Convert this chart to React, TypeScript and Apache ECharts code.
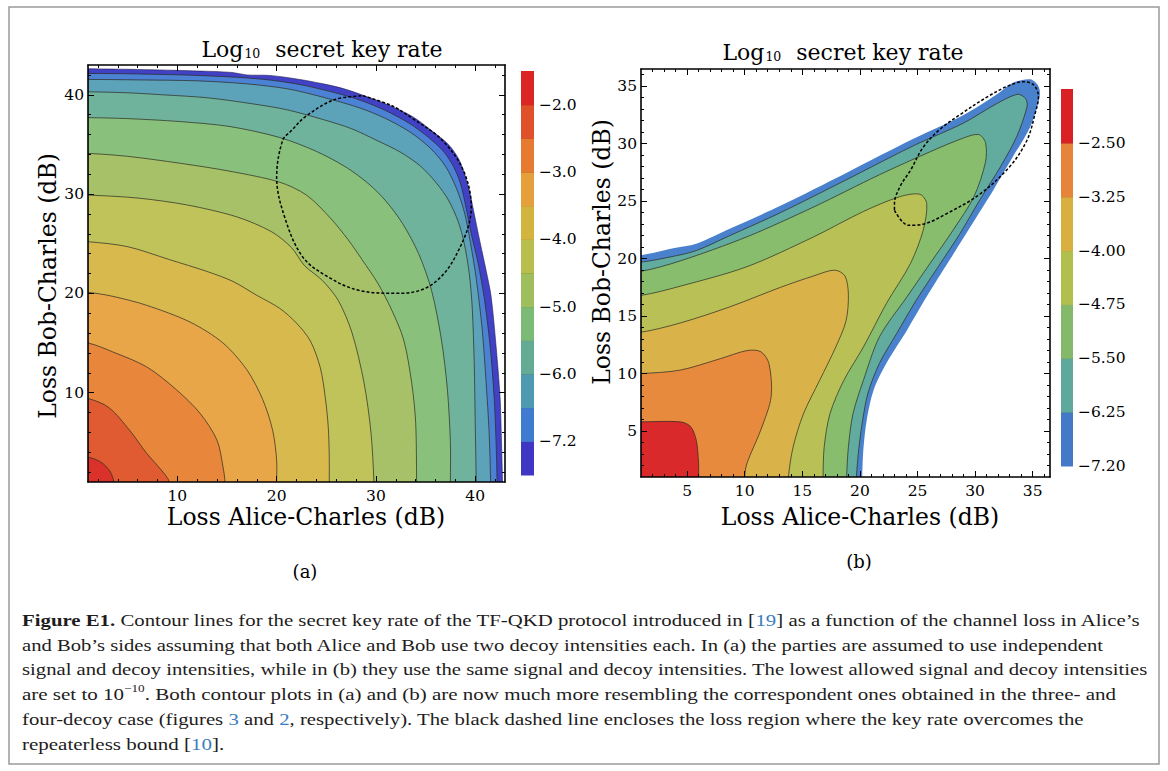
import { useEffect, useRef } from 'react';
import * as echarts from 'echarts';

const AXIS_FONT = 'DejaVu Serif';
const CAPTION_FONT = 'Liberation Serif';
const NB = '\u00a0';

// ================= Panel (a) =================
const A_RANGE = [1, 43];
const A_MAJOR = [10, 20, 30, 40];
const A_MINOR = [2, 4, 6, 8, 12, 14, 16, 18, 22, 24, 26, 28, 32, 34, 36, 38, 42];

// contour lines, outermost first (each runs from the left axis to the bottom axis)
const A_EDGE = [[1, 42.62], [6, 42.55], [12, 42.4], [15.5, 42.25], [17, 42.0], [19.3, 41.95], [22, 41.6], [24.7, 41.1], [26.8, 40.6], [28.7, 39.95], [31.2, 39.0], [33.7, 37.8], [35.6, 36.4], [37.3, 35.0], [38.3, 33.6], [38.9, 32.1], [39.4, 30.4], [39.8, 28.5], [40.5, 25.1], [41.1, 22.3], [41.6, 19.7], [42.1, 14.7], [42.5, 9.6], [42.65, 5], [42.75, 1]];
const A_C11 = [[1, 42.15], [6, 42.1], [12, 41.95], [17, 41.7], [20, 41.4], [22.5, 41.0], [24.7, 40.5], [27, 39.9], [28.7, 39.35], [31, 38.4], [33.4, 37.1], [35.3, 35.7], [36.8, 34.3], [37.8, 32.8], [38.5, 31.1], [39.0, 29], [39.6, 26], [40.3, 23], [40.9, 19.6], [41.5, 14.7], [41.9, 9.6], [42.1, 5], [42.2, 1]];
const A_C10 = [[1, 41.55], [6, 41.5], [12.1, 41.4], [17, 41.1], [21.1, 40.6], [24.5, 39.8], [28.3, 38.7], [31, 37.6], [33.5, 36.2], [35.5, 34.6], [37, 32.8], [38.1, 30.6], [38.9, 28.2], [39.5, 25.2], [40.1, 21.5], [40.7, 16.4], [41.1, 11], [41.4, 6], [41.55, 1]];
const A_C9 = [[1, 40.3], [5, 40.2], [8.5, 40.0], [13, 39.7], [17.5, 39.1], [21, 38.5], [24.7, 37.5], [27.5, 36.6], [30.1, 35.4], [32.5, 34.2], [34.5, 32.8], [36.1, 31.1], [37.3, 29.4], [38.3, 27.2], [38.9, 25], [39.4, 22], [39.7, 18.5], [39.9, 13], [40.0, 7], [40.1, 1]];
const A_C8 = [[1, 37.7], [5, 37.6], [10.3, 37.3], [15.3, 36.8], [20.3, 35.7], [24, 34.3], [27, 32.7], [29.3, 31], [31, 29.3], [32.7, 27], [34.3, 24], [35.6, 20.3], [36.6, 15.3], [37.2, 10.3], [37.5, 5], [37.5, 1]];
const A_C7 = [[1, 34.1], [5, 33.8], [10.3, 33.1], [15.3, 32.3], [20.3, 31.2], [23, 29.9], [25.4, 27.6], [27.2, 25.4], [28.6, 23.4], [30.2, 21.0], [31.6, 18.3], [32.8, 15.3], [33.6, 11], [34, 7], [34.1, 1]];
const A_C6 = [[1, 29.9], [6, 29.6], [11, 28.9], [16, 27.7], [19.5, 26.2], [21.5, 24.6], [22.8, 22.8], [24.6, 21.3], [26.2, 19.3], [27.6, 16], [28.8, 11], [29.5, 6], [29.8, 1]];
const A_C5 = [[1, 25.2], [5, 24.7], [9.2, 23.4], [13, 22.2], [15.6, 21.2], [18, 19.8], [20.3, 18.5], [22, 17], [23.4, 15.2], [24.4, 12.5], [24.9, 9.5], [25.2, 6.5], [25.3, 3.5], [25.3, 1]];
const A_C4 = [[1, 20.1], [3.5, 19.7], [6.9, 18.8], [11.3, 17.1], [14.6, 15], [17, 12.3], [18.6, 9.3], [19.6, 6.2], [20, 3.2], [20, 1]];
const A_C3 = [[1, 15], [3.5, 14.1], [6.9, 12.6], [9.9, 10.3], [12.3, 7.9], [14, 5.2], [14.6, 2.5], [14.8, 1]];
const A_C2 = [[1, 9.4], [3.1, 8.5], [5.2, 6.2], [6.9, 3.9], [8.3, 2.3], [9.2, 1]];
const A_C1 = [[1, 3.5], [2.3, 3.0], [3.2, 2.1], [3.6, 1]];
const A_CONTOURS = [A_EDGE, A_C11, A_C10, A_C9, A_C8, A_C7, A_C6, A_C5, A_C4, A_C3, A_C2, A_C1];
const A_FILLS = ['#4141c6', '#4b82d3', '#5ca2b8', '#6fb39c', '#88c07c', '#a6c167', '#bfc35a', '#d8b94e', '#e9a649', '#e8863b', '#e05b31', '#da322a'];
const A_DASH = [[28.7, 39.9], [31.6, 38.9], [33.7, 37.6], [36.6, 35.5], [38.8, 32.4], [39.6, 28.7], [38.0, 23.7], [35.5, 20.8], [32.3, 20.0], [28.3, 20.3], [25.1, 21.7], [22.6, 23.7], [20.8, 27.7], [20.0, 31.7], [20.6, 35.4], [21.5, 36.4], [22.9, 37.8], [25.8, 39.5], [28.7, 39.9]];
const A_CB_COLORS = ['#3f37c3', '#3f7bd1', '#4f9ab3', '#64ab96', '#7cbb76', '#9fbf5d', '#b9bf4e', '#d3b43f', '#e5a03d', '#e67b30', '#e0502a', '#dc2626'];
const A_CB_TICKS = [1, 3, 5, 7, 9, 11];
const A_CB_LABELS = ['−7.2', '−6.0', '−5.0', '−4.0', '−3.0', '−2.0'];

// ================= Panel (b) =================
const B_RANGE = [1, 36.5];
const B_MAJOR = [5, 10, 15, 20, 25, 30, 35];
const B_MINOR = [2, 3, 4, 6, 7, 8, 9, 11, 12, 13, 14, 16, 17, 18, 19, 21, 22, 23, 24, 26, 27, 28, 29, 31, 32, 33, 34, 36];

const B_EDGE = [[1, 20.3], [3.8, 20.9], [5.8, 21.3], [8.7, 22.6], [13.1, 24.6], [18.9, 27.5], [24.6, 30.4], [29, 32.5], [31.9, 34.3], [33.3, 35.3], [34.8, 35.6], [35.5, 35.0], [35.6, 34.1], [34.8, 31.5], [33.3, 28.9], [31.6, 26], [29.8, 23.1], [27.8, 19.9], [25.8, 16.7], [24.1, 13.8], [22.3, 10.9], [21.2, 8.6], [20.6, 6], [20.3, 3.4], [20.2, 1]];
const B_TB = [[1, 19.7], [3.8, 20.2], [5.8, 20.7], [8.7, 22.0], [13.1, 24.0], [18.9, 26.9], [24.6, 29.8], [29, 31.8], [31.9, 33.5], [33.7, 34.3], [34.4, 33.9], [34.5, 33.2], [33.6, 30.6], [32.2, 28], [30.4, 25.1], [28.7, 22.2], [26.8, 19.3], [24.9, 16.4], [23.2, 13.5], [21.7, 10.9], [20.7, 8.3], [20.2, 5.7], [19.9, 3.4], [19.7, 1]];
const B_GT = [[1, 18.9], [4.4, 19.8], [10.2, 21.9], [16, 24.5], [21.7, 27.3], [26.1, 29.3], [29, 30.5], [30.3, 30.8], [30.9, 30.1], [30.9, 28.4], [29.9, 25.4], [28.1, 22.5], [26.1, 19.6], [24.1, 16.7], [21.7, 13.2], [20.3, 9.4], [19.4, 6.5], [19, 3.6], [18.85, 1]];
const B_YG = [[1, 16.8], [4.4, 17.6], [10.2, 19.3], [16, 21.9], [20.3, 24.1], [23.5, 25.4], [25.2, 25.6], [25.8, 24.8], [25.5, 22.5], [24.4, 19.6], [22.3, 16.1], [20.3, 12.3], [18.6, 9.4], [17.4, 6.5], [16.9, 3.6], [16.8, 1]];
const B_Y = [[1, 13.6], [4.4, 14.4], [8.7, 15.8], [13.1, 17.5], [16, 18.5], [17.8, 19], [18.7, 18.5], [19, 16.9], [18.8, 14.6], [17.9, 12.3], [16.5, 9.4], [15.1, 6.5], [14.2, 3.6], [13.8, 1]];
const B_O = [[1, 10], [4.4, 10.3], [7.9, 11.3], [10.2, 12], [11.4, 11.9], [12.1, 10.9], [12.3, 8], [11.4, 5.1], [10.2, 2.2], [10, 1]];
const B_R = [[1, 5.8], [4.4, 5.8], [5.3, 5.4], [5.8, 4.2], [6, 2.2], [6, 1]];
const B_CONTOURS = [B_EDGE, B_TB, B_GT, B_YG, B_Y, B_O, B_R];
const B_FILLS = ['#4a81cc', '#62ab9f', '#88bd6e', '#b9c156', '#dab24a', '#e88a3e', '#d9292a'];
const B_DASH = [[23.0, 24.2], [24.2, 22.9], [25.5, 23.0], [27.5, 23.9], [30.4, 25.6], [33, 28], [34.5, 30.3], [35.2, 32.6], [35.5, 34.1], [35.1, 35.1], [34.2, 35.4], [32.8, 35.0], [31.1, 34.1], [28.8, 32.6], [27, 31.3], [25.5, 29.7], [24.4, 27.7], [23.5, 26.3], [23.0, 24.8], [23.0, 24.2]];
const B_CB_COLORS = ['#4479c8', '#5ea89c', '#84b96a', '#b3bf4d', '#d7b040', '#e6843a', '#d92025'];
const B_CB_TICKS = [0, 1, 2, 3, 4, 5, 6];
const B_CB_LABELS = ['−7.20', '−6.25', '−5.50', '−4.75', '−4.00', '−3.25', '−2.50'];

// ================= Texts =================
const TITLE = 'Log';
const TITLE_SUB = '10';
const TITLE_REST = 'secret key rate';
const X_NAME = 'Loss Alice-Charles (dB)';
const Y_NAME = 'Loss Bob-Charles (dB)';
const CAPTION_LINES = [
  [['b', 'Figure E1.'], ['n', NB + 'Contour lines for the secret key rate of the TF-QKD protocol introduced in ['], ['l', '19'], ['n', '] as a function of the channel loss in Alice’s']],
  [['n', 'and Bob’s sides assuming that both Alice and Bob use two decoy intensities each. In (a) the parties are assumed to use independent']],
  [['n', 'signal and decoy intensities, while in (b) they use the same signal and decoy intensities. The lowest allowed signal and decoy intensities']],
  [['n', 'are set to 10'], ['u', '−10'], ['n', '. Both contour plots in (a) and (b) are now much more resembling the correspondent ones obtained in the three- and']],
  [['n', 'four-decoy case (figures' + NB], ['l', '3'], ['n', NB + 'and' + NB], ['l', '2'], ['n', ', respectively). The black dashed line encloses the loss region where the key rate overcomes the']],
  [['n', 'repeaterless bound ['], ['l', '10'], ['n', '].']],
];
const CAPTION_Y = [620, 645, 669, 694, 719, 744];
const CAPTION_RIGHT = [1141, 1104, 1148, 1124, 1084, 290];
const CAPTION_LEFT = 22;
const CAP_SIZE = 17.5;

function frameAxes(gridIndex: number, range: number[], majors: number[], minors: number[], dim: 'x' | 'y') {
  const base = { gridIndex, type: 'value', min: range[0], max: range[1], z: 10, splitLine: { show: false } };
  const line = { show: true, onZero: false, lineStyle: { color: '#000', width: 1.6 } };
  const tickStyle = { color: '#000', width: 1 };
  const main = dim === 'x' ? 'bottom' : 'left';
  const opp = dim === 'x' ? 'top' : 'right';
  const label = { show: true, customValues: majors, color: '#000', fontFamily: AXIS_FONT, fontSize: 15.5, margin: dim === 'x' ? 6 : 4 };
  return [
    { ...base, position: main, axisLine: line, axisTick: { show: true, inside: true, length: 6, customValues: majors, lineStyle: tickStyle }, axisLabel: label },
    { ...base, position: main, axisLine: { show: false }, axisTick: { show: true, inside: true, length: 3, customValues: minors, lineStyle: tickStyle }, axisLabel: { show: false } },
    { ...base, position: opp, axisLine: line, axisTick: { show: true, inside: true, length: 6, customValues: majors, lineStyle: tickStyle }, axisLabel: { show: false } },
    { ...base, position: opp, axisLine: { show: false }, axisTick: { show: true, inside: true, length: 3, customValues: minors, lineStyle: tickStyle }, axisLabel: { show: false } },
  ];
}

function contourSeries(axisIdx: number, contours: number[][][], fills: string[], edgeStroke: string, lo: number) {
  return {
    type: 'custom',
    coordinateSystem: 'cartesian2d',
    xAxisIndex: axisIdx,
    yAxisIndex: axisIdx,
    clip: true,
    silent: true,
    z: 2,
    data: contours.map((c) => c[0]),
    renderItem: (params: any, api: any) => {
      const i = params.dataIndex;
      const pts = contours[i];
      const first = pts[0];
      const last = pts[pts.length - 1];
      const poly = [
        api.coord([lo - 6, lo - 6]),
        api.coord([lo - 2, first[1]]),
        ...pts.map((p) => api.coord(p)),
        api.coord([last[0], lo - 2]),
      ];
      const cs = params.coordSys;
      return {
        type: 'polygon',
        shape: { points: poly, smooth: 0.3 },
        style: { fill: fills[i], stroke: i === 0 ? edgeStroke : 'rgba(45,45,35,0.72)', lineWidth: 1 },
        clipPath: { type: 'rect', shape: { x: cs.x, y: cs.y, width: cs.width, height: cs.height } },
      };
    },
  };
}

function dashSeries(axisIdx: number, pts: number[][]) {
  return {
    type: 'line',
    xAxisIndex: axisIdx,
    yAxisIndex: axisIdx,
    data: pts,
    smooth: 0.35,
    symbol: 'none',
    silent: true,
    z: 5,
    lineStyle: { color: '#000', width: 1.5, type: [3, 2] },
  };
}

function colorbarSeries(axisIdx: number, colors: string[]) {
  return {
    type: 'custom',
    coordinateSystem: 'cartesian2d',
    xAxisIndex: axisIdx,
    yAxisIndex: axisIdx,
    silent: true,
    data: colors.map((_, i) => [0.5, i + 0.5]),
    renderItem: (params: any, api: any) => {
      const i = params.dataIndex;
      const p0 = api.coord([0, i]);
      const p1 = api.coord([1, i + 1]);
      const children: any[] = [
        { type: 'rect', shape: { x: p0[0], y: p1[1], width: p1[0] - p0[0], height: p0[1] - p1[1] + 0.5 }, style: { fill: colors[i] } },
      ];
      if (i < colors.length - 1) {
        children.push({ type: 'line', shape: { x1: p0[0], y1: p1[1], x2: p1[0], y2: p1[1] }, style: { stroke: 'rgba(0,0,0,0.4)', lineWidth: 1 } });
      }
      return { type: 'group', children };
    },
  };
}

function colorbarAxes(gridIndex: number, n: number, ticks: number[], labels: string[]) {
  const x = { gridIndex, type: 'value', min: 0, max: 1, show: false };
  const y = {
    gridIndex, type: 'value', min: 0, max: n, position: 'right',
    axisLine: { show: false }, axisTick: { show: false }, splitLine: { show: false },
    axisLabel: {
      show: true, customValues: ticks, margin: 5, color: '#000', fontFamily: AXIS_FONT, fontSize: 15.5,
      formatter: (v: number) => labels[ticks.indexOf(v)] ?? '',
    },
  };
  return { x, y };
}

function titleText(cx: number, cy: number) {
  return {
    type: 'text', x: cx, y: cy, silent: true,
    style: {
      text: `{m|${TITLE}}{s|${TITLE_SUB}}{m|${NB}${NB}${TITLE_REST}}`,
      align: 'center', verticalAlign: 'middle',
      rich: {
        m: { fontSize: 22, fontFamily: AXIS_FONT, fill: '#000', lineHeight: 26, verticalAlign: 'bottom' },
        s: { fontSize: 12.5, fontFamily: AXIS_FONT, fill: '#000', lineHeight: 11, verticalAlign: 'bottom', padding: [0, 1, 0, 1] },
      },
    },
  };
}

function plainText(text: string, cx: number, cy: number, size: number, rotation = 0) {
  return {
    type: 'text', x: cx, y: cy, rotation, silent: true,
    style: { text, fontSize: size, fontFamily: AXIS_FONT, fill: '#000', align: 'center', verticalAlign: 'middle' },
  };
}

const SEG_STYLE: Record<string, any> = {
  n: { fontSize: CAP_SIZE, fontFamily: CAPTION_FONT, fill: '#1e1c1c', lineHeight: 22, verticalAlign: 'middle' },
  b: { fontSize: CAP_SIZE, fontFamily: CAPTION_FONT, fontWeight: 'bold', fill: '#1e1c1c', lineHeight: 22, verticalAlign: 'middle' },
  l: { fontSize: CAP_SIZE, fontFamily: CAPTION_FONT, fill: '#3a7ebf', lineHeight: 22, verticalAlign: 'middle' },
  u: { fontSize: 11, fontFamily: CAPTION_FONT, fill: '#1e1c1c', lineHeight: 12, verticalAlign: 'top' },
};

function captionElements() {
  const canvas = document.createElement('canvas');
  const ctx = canvas.getContext('2d') as CanvasRenderingContext2D;
  return CAPTION_LINES.map((segs, li) => {
    let w = 0;
    segs.forEach(([k, t]) => {
      const st = SEG_STYLE[k];
      ctx.font = `${st.fontWeight || 'normal'} ${st.fontSize}px "${CAPTION_FONT}"`;
      w += ctx.measureText(t).width;
    });
    const target = CAPTION_RIGHT[li] - CAPTION_LEFT;
    let sx = w > 0 ? target / w : 1;
    sx = Math.max(0.85, Math.min(1.2, sx));
    return {
      type: 'text', x: CAPTION_LEFT, y: CAPTION_Y[li], scaleX: sx, silent: true,
      style: {
        text: segs.map(([k, t]) => `{${k}|${t}}`).join(''),
        align: 'left', verticalAlign: 'middle',
        rich: SEG_STYLE,
      },
    };
  });
}

export default function App() {
  const ref = useRef<HTMLDivElement>(null);
  useEffect(() => {
    if (!ref.current) return;
    const chart = echarts.init(ref.current, null, { renderer: 'svg' });
    const cbA = colorbarAxes(2, A_CB_COLORS.length, A_CB_TICKS, A_CB_LABELS);
    const cbB = colorbarAxes(3, B_CB_COLORS.length, B_CB_TICKS, B_CB_LABELS);
    const option: any = {
      animation: false,
      backgroundColor: '#fff',
      textStyle: { fontFamily: AXIS_FONT },
      grid: [
        { left: 88, top: 65, width: 417, height: 417, outerBoundsMode: 'none' },
        { left: 641, top: 69, width: 409, height: 408, outerBoundsMode: 'none' },
        { left: 521, top: 71, width: 13, height: 404, outerBoundsMode: 'none' },
        { left: 1061, top: 89, width: 12, height: 377, outerBoundsMode: 'none' },
      ],
      xAxis: [
        ...frameAxes(0, A_RANGE, A_MAJOR, A_MINOR, 'x'),
        ...frameAxes(1, B_RANGE, B_MAJOR, B_MINOR, 'x'),
        cbA.x, cbB.x,
      ],
      yAxis: [
        ...frameAxes(0, A_RANGE, A_MAJOR, A_MINOR, 'y'),
        ...frameAxes(1, B_RANGE, B_MAJOR, B_MINOR, 'y'),
        cbA.y, cbB.y,
      ],
      series: [
        contourSeries(0, A_CONTOURS, A_FILLS, 'rgba(25,20,70,0.55)', A_RANGE[0]),
        dashSeries(0, A_DASH),
        contourSeries(4, B_CONTOURS, B_FILLS, 'rgba(0,0,0,0)', B_RANGE[0]),
        dashSeries(4, B_DASH),
        colorbarSeries(8, A_CB_COLORS),
        colorbarSeries(9, B_CB_COLORS),
      ],
      graphic: {
        elements: [
          { type: 'rect', silent: true, shape: { x: 9, y: 7, width: 1150, height: 757 }, style: { fill: 'none', stroke: '#9a9a9a', lineWidth: 1.5 } },
          titleText(322, 47),
          titleText(843, 50),
          plainText(X_NAME, 306, 517, 23.5),
          plainText(X_NAME, 860, 517, 23.5),
          plainText(Y_NAME, 48, 286, 23.5, Math.PI / 2),
          plainText(Y_NAME, 602, 252, 23.5, Math.PI / 2),
          plainText('(a)', 305, 571, 18),
          plainText('(b)', 859, 561, 18),
          ...captionElements(),
        ],
      },
    };
    chart.setOption(option);
    return () => chart.dispose();
  }, []);
  return <div ref={ref} style={{ position: 'absolute', left: 0, top: 0, width: 1168, height: 771, background: '#fff' }} />;
}
